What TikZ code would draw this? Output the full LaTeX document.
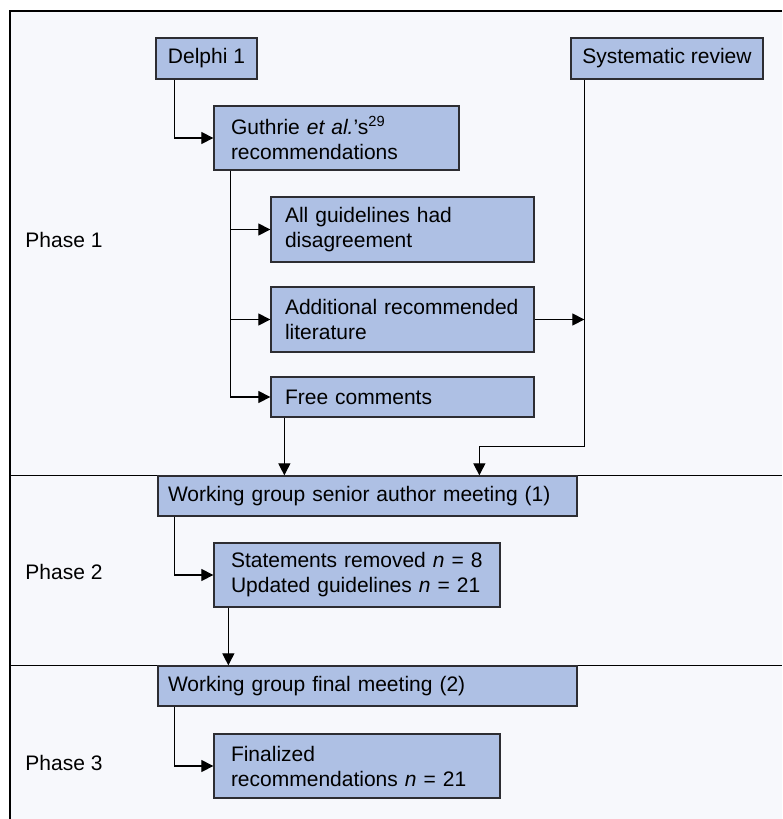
\documentclass[tikz,border=0pt]{standalone}
\usepackage{fontspec}
\setmainfont{Liberation Sans}
\usepackage{xcolor}
\usepackage{tikz}
\usetikzlibrary{arrows.meta,positioning,calc}

\definecolor{boxfill}{RGB}{174,192,228}
\definecolor{boxline}{RGB}{45,45,50}
\definecolor{panelbg}{RGB}{247,248,252}

\begin{document}
\begin{tikzpicture}[
        x=0.5pt, y=-0.5pt,
        font=\fontsize{10.5pt}{12.5pt}\selectfont,
        srcbox/.style={rectangle, draw=boxline, line width=0.65pt, fill=boxfill,
                       minimum height=20.5pt, align=center, inner ysep=0pt},
        stepbox/.style={rectangle, draw=boxline, line width=0.65pt, fill=boxfill,
                        align=left, inner ysep=0pt},
        arr/.style={-{Triangle[length=6pt, width=6pt]}, line width=0.6pt, black},
        phase/.style={anchor=west, inner sep=0pt}
    ]
        \useasboundingbox (0,0) rectangle (782,819);

        %--- Panel and phase separators ---
        \fill[panelbg] (10,11) rectangle (782,819);
        \draw[line width=0.6pt] (782,11) -- (10,11) -- (10,819);
        \draw[line width=0.6pt] (10,475.5) -- (782,475.5);
        \draw[line width=0.6pt] (10,665.7) -- (782,665.7);

        \node[phase] (p1) at (25,240) {Phase 1};
        \node[phase] (p2) at (25,572) {Phase 2};
        \node[phase] (p3) at (25,763) {Phase 3};

        %--- Phase 1 boxes ---
        \node[srcbox, minimum width=50.5pt] (delphi) at (206.5,58.5) {Delphi 1};
        \node[srcbox, minimum width=96pt] (sysrev) at (667,58.5) {Systematic review};
        \node[stepbox, text width=105.5pt, inner xsep=8.5pt, minimum height=32pt]
            (guthrie) at (336.5,138) {Guthrie \textit{et al.}'s\textsuperscript{29}\\recommendations};
        \node[stepbox, text width=117.5pt, inner xsep=7pt, minimum height=32.5pt]
            (allg) at (402.5,229.5) {All guidelines had\\disagreement};
        \node[stepbox, text width=117.5pt, inner xsep=7pt, minimum height=32.5pt]
            (addl) at (402.5,319.5) {Additional recommended\\literature};
        \node[stepbox, text width=117.5pt, inner xsep=7pt, minimum height=20pt]
            (free) at (402.5,397) {Free comments};

        %--- Phase 2 boxes ---
        \node[stepbox, text width=199.5pt, inner xsep=5pt, minimum height=20pt]
            (wg1) at (367.5,496) {Working group senior author meeting (1)};
        \node[stepbox, text width=126pt, inner xsep=8.5pt, minimum height=32pt]
            (stmt) at (357,575) {Statements removed \textit{n} = 8\\Updated guidelines \textit{n} = 21};

        %--- Phase 3 boxes ---
        \node[stepbox, text width=199.5pt, inner xsep=5pt, minimum height=20pt]
            (wg2) at (367.5,686) {Working group final meeting (2)};
        \node[stepbox, text width=126pt, inner xsep=8.5pt, minimum height=32pt]
            (final) at (357,766) {Finalized\\recommendations \textit{n} = 21};

        %--- Helper points on the connectors ---
        \coordinate (sysline) at ([xshift=7pt]sysrev.south west);
        \coordinate (wgin) at ([xshift=161pt]wg1.north west);

        %--- Arrows: phase 1 ---
        \draw[arr] ([xshift=9.5pt]delphi.south west) |- (guthrie.west);
        \draw[arr] ([xshift=8.5pt]guthrie.south west) |- (allg.west);
        \draw[arr] ([xshift=8.5pt]guthrie.south west) |- (addl.west);
        \draw[arr] ([xshift=8.5pt]guthrie.south west) |- (free.west);
        \draw[arr] (addl.east) -- (addl.east -| sysline);
        \draw[arr] (sysline) |- ([yshift=14.5pt]wgin) -- (wgin);
        \draw[arr] ([xshift=7pt]free.south west) -- ([xshift=7pt]free.south west |- wg1.north);

        %--- Arrows: phase 2 and 3 ---
        \draw[arr] ([xshift=8.5pt]wg1.south west) |- (stmt.west);
        \draw[arr] ([xshift=7.5pt]stmt.south west) -- ([xshift=7.5pt]stmt.south west |- wg2.north);
        \draw[arr] ([xshift=8.5pt]wg2.south west) |- (final.west);
    \end{tikzpicture}
\end{document}
